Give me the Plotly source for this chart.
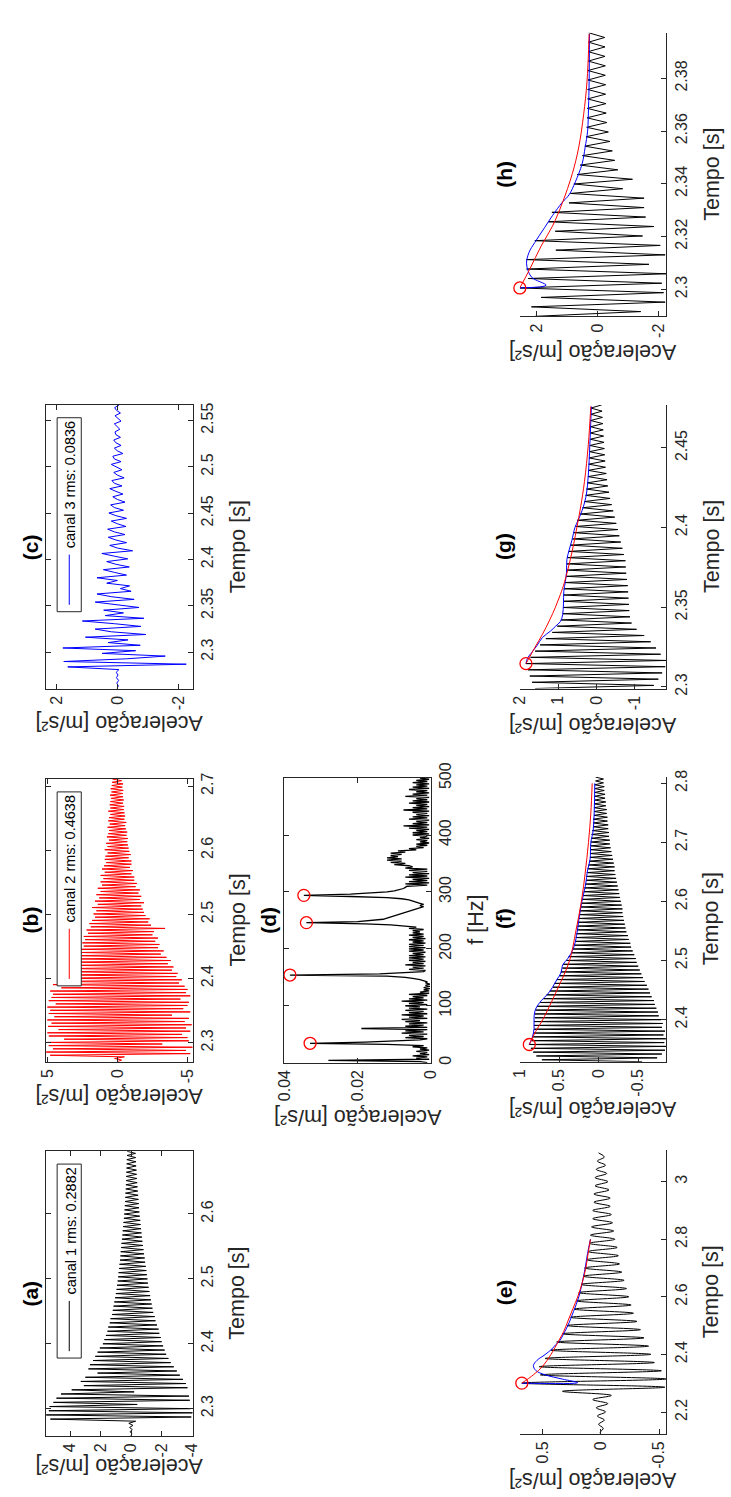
import numpy as np
import plotly.graph_objects as go

W, H = 731, 1497
FONT = "Liberation Sans, Arial, Helvetica, sans-serif"
AXC = "#262626"

# ---------------- data ----------------
# (a) canal 1: successive extrema of the measured acceleration [m/s^2]
acc_a = [0.02, -0.05, 0.06, -0.08, 0.10, -0.12, 0.15, -0.30,
         5.30, -3.95, 5.58, -4.04, 5.40, -3.90, 5.35, -0.40, 5.10, -3.85,
         4.90, -3.80, 4.60, -0.20, 3.90, -3.70, 3.10, -3.60, 3.30, -3.40,
         3.00, -3.20, 2.20, -3.00, 2.80, -2.80, 2.70, -2.60, 2.50, -2.45,
         2.35, -2.30, 2.20, -2.20, 2.05, -2.10, 1.85, -2.00, 1.75, -1.95,
         1.65, -1.85, 1.55, -1.80, 1.50, -1.70, 1.40, -1.60, 1.35, -1.55,
         1.25, -1.45, 1.20, -1.40, 1.15, -1.35, 1.10, -1.30, 1.05, -1.25,
         1.00, -1.20, 0.95, -1.15, 0.92, -1.10, 0.88, -1.07, 0.85, -1.03,
         0.82, -1.00, 0.79, -0.96, 0.76, -0.92, 0.73, -0.89, 0.70, -0.85,
         0.68, -0.81, 0.65, -0.77, 0.63, -0.74, 0.60, -0.71, 0.57, -0.68,
         0.55, -0.65, 0.52, -0.62, 0.50, -0.60, 0.47, -0.57, 0.45, -0.54,
         0.43, -0.52, 0.41, -0.50, 0.40, -0.48, 0.38, -0.46, 0.37, -0.44,
         0.35, -0.42, 0.34, -0.40, 0.33, -0.38, 0.32, -0.36, 0.31, -0.35,
         0.30, -0.33, 0.29, -0.32, 0.28, -0.30, 0.27, -0.29, 0.26]
t_a = np.linspace(2.258, 2.6965, len(acc_a))

# (b) canal 2
acc_b = [0.0, -0.3, 0.2, -0.5,
         4.8, -5.2, 5.09, -4.9, 4.6, -5.37, 4.9, -3.2, 5.0, -5.1,
         3.8, -5.0, 4.9, -4.6, 5.0, -5.2, 4.2, -4.9, 4.95, -5.3,
         4.7, -4.8, 5.0, -5.1, 4.5, -3.9, 4.9, -5.2, 4.8, -4.7,
         5.0, -5.0, 4.4, -5.1, 4.9, -4.5, 4.7, -5.2, 4.6, -4.9,
         4.8, -5.0, 4.0, -4.8, 4.6, -4.4, 4.2, -4.6, 4.1, -4.2,
         3.6, -4.3, 3.8, -3.9, 3.4, -4.0, 3.2, -3.6, 3.3, -3.8,
         2.8, -3.5, 3.0, -3.1, 2.6, -3.3, 2.7, -2.9, 2.4, -3.0,
         2.5, -2.7, 2.3, -2.9, 2.4, -2.5, 2.1, -2.6, 2.2, -3.4,
         1.9, -2.4, 2.0, -2.2, 1.8, -2.3, 1.6, -2.0, 1.7, -1.9,
         1.5, -1.8, 1.8, -1.7, 1.4, -1.9, 1.6, -1.6, 1.3, -1.7,
         1.5, -1.5, 1.2, -1.6, 1.4, -1.3, 1.1, -1.4, 1.2, -1.2,
         1.0, -1.2, 1.2, -1.0, 0.9, -1.1, 1.1, -0.9, 0.95, -1.0,
         0.8, -1.0, 0.9, -0.8, 0.85, -0.95, 0.7, -0.85, 0.9, -0.8,
         0.7, -0.75, 0.8, -0.7, 0.6, -0.75, 0.75, -0.65, 0.65, -0.7,
         0.6, -0.6, 0.7, -0.55, 0.55, -0.63, 0.65, -0.5, 0.6, -0.55,
         0.5, -0.5, 0.65, -0.45, 0.5, -0.48, 0.55, -0.4, 0.5, -0.45,
         0.45, -0.4, 0.53, -0.38, 0.42, -0.42, 0.48, -0.35, 0.4, -0.4,
         0.38, -0.3, 0.35]
t_b = np.linspace(2.2705, 2.711, len(acc_b))

# (c) canal 3
acc_c = [0.01, -0.03, 0.02, -0.04, 0.03, -0.02, 0.04, -0.05,
         1.63, -2.26, 1.76, -0.30, -1.57, 0.50, -0.60, 1.79, -0.75, 0.30,
         -0.35, 1.05, -0.93, 0.20, 0.73, -0.77, 0.10, 1.15, -0.87, 0.40,
         -0.20, 0.45, -0.71, 0.10, 0.73, -0.55, 0.20, 0.67, -0.45, -0.10,
         -0.40, 0.35, 0.00, 0.67, -0.30, 0.10, 0.46, -0.39, 0.05, 0.35,
         -0.34, 0.10, 0.51, -0.50, 0.00, 0.25, -0.30, 0.05, 0.30, -0.25,
         0.10, 0.32, -0.28, 0.00, 0.20, -0.30, 0.05, 0.28, -0.20, 0.10,
         0.22, -0.25, 0.00, 0.15, -0.18, 0.05, 0.25, -0.15, 0.10, 0.18,
         -0.22, 0.00, 0.12, -0.15, 0.05, 0.20, -0.12, 0.10, 0.15, -0.18,
         0.00, 0.10, -0.12, 0.05, 0.12, -0.10, 0.05, 0.08, -0.08, 0.02,
         0.10, -0.12, 0.00, 0.08, -0.10, 0.03, 0.09, -0.06]
t_c = np.linspace(2.2606, 2.567, len(acc_c))

# (d) amplitude spectrum, 2 Hz bins, values in 1e-3 m/s^2
amp_d_milli = [
    1, 3, 28, 0.5, 4, 1, 5, 0.5, 3, 1, 4, 0.5, 3, 1, 5, 2,
    12, 33, 18, 8, 3,
    1, 7, 2, 6, 1, 8, 2, 7, 1, 19,
    1, 7, 2, 6, 1, 7, 3, 8, 1, 6, 2, 8, 1, 6, 2, 7, 1, 6, 3, 7,
    1, 6, 2, 8, 1, 6, 2, 5, 1, 6,
    0.5, 3, 0.5, 2, 0.3, 2, 0.3, 1.5, 0.3, 1.5, 1, 2, 3, 5, 7,
    12, 38.5, 14, 6, 2,
    1.5, 6, 2, 5, 1.5, 7, 2, 5, 1.5, 6, 2, 6, 1.5, 6, 2, 5, 1.5, 6, 2, 6,
    1.5, 6, 2, 6, 1.5, 5, 2, 6, 1.5, 5, 2, 6, 2, 5, 3,
    5, 2, 6, 4, 7, 11, 18, 34, 20, 15, 13, 12, 11, 10.5, 9,
    8, 7, 6, 5, 4, 3, 2, 3, 2, 3, 4, 5, 6, 8, 12, 22,
    34.7, 22, 15, 12, 10, 8.5, 7.5, 7, 6.5,
    1, 7, 0.5, 6, 1, 5, 0.5, 7, 1, 6, 0.5, 5, 1, 6, 1, 7, 5,
    6, 10, 7, 11, 8, 12, 8, 12, 9, 11, 8, 11, 7, 9, 4, 6, 2, 4,
    1, 4, 0.5, 3, 1, 4, 0.5, 3, 1, 5,
    0.5, 5, 1, 4, 0.5, 6, 1, 7.5, 0.5, 5, 1, 4, 0.5, 6, 1, 5, 0.5, 4, 1, 5,
    0.5, 7.5, 1, 5, 0.5, 4, 1, 6, 0.5, 5, 1, 4, 0.5, 7, 1, 5, 0.5, 4, 1, 6,
    0.5, 5, 1, 4, 0.5, 5, 1, 4, 0.5, 3]
freq_d = np.linspace(0, 500, len(amp_d_milli))
amp_d = np.array(amp_d_milli) * 1e-3
peak_freqs_d = [34, 154, 246, 294]

# (e) component near 35 Hz
acc_e = [0.01, -0.02, 0.02, -0.03, 0.03, -0.04, 0.04, -0.06, 0.07, -0.09,
         0.33, -0.55, 0.68, -0.56, 0.52, -0.52, 0.53, -0.46, 0.48, -0.43,
         0.43, -0.41, 0.38, -0.37, 0.33, -0.34, 0.29, -0.31, 0.26, -0.28,
         0.23, -0.26, 0.21, -0.24, 0.19, -0.22, 0.17, -0.20, 0.15, -0.18,
         0.14, -0.16, 0.12, -0.15, 0.11, -0.14, 0.10, -0.12, 0.09, -0.11,
         0.08, -0.10, 0.07, -0.09, 0.07, -0.08, 0.06, -0.08, 0.06, -0.07,
         0.05, -0.06, 0.05, -0.05, 0.04, -0.04, 0.03, -0.03, 0.02]
t_e = np.linspace(2.13, 3.1, len(acc_e))
env_e_t = [2.3012, 2.3025, 2.315, 2.33, 2.345, 2.362, 2.38, 2.40, 2.42, 2.434,
           2.45, 2.473, 2.50, 2.55, 2.60, 2.65, 2.70, 2.75, 2.80]
env_e_v = [0.68, 0.20, 0.33, 0.48, 0.56, 0.58, 0.55, 0.48, 0.42, 0.39,
           0.35, 0.32, 0.285, 0.235, 0.19, 0.16, 0.135, 0.115, 0.09]
fit_e_t = [2.3012, 2.33, 2.36, 2.40, 2.45, 2.48, 2.52, 2.56, 2.60, 2.65, 2.70, 2.75, 2.80]
fit_e_v = [0.68, 0.58, 0.50, 0.43, 0.36, 0.32, 0.28, 0.24, 0.20, 0.16, 0.13, 0.11, 0.09]

# (f) component near 155 Hz
acc_f = [-0.55, 0.72, -0.74, 0.79, -0.80, 0.83, -0.84, 0.86, -0.85, 0.88,
         -0.83, 0.85, -0.85, 0.84, -0.82, 0.83, -0.84, 0.82, -0.80, 0.82,
         -0.81, 0.82, -0.79, 0.81, -0.76, 0.81, -0.75, 0.80, -0.73, 0.78,
         -0.71, 0.74, -0.70, 0.70, -0.67, 0.66, -0.65, 0.62, -0.63, 0.58,
         -0.61, 0.56, -0.58, 0.53, -0.56, 0.50, -0.54, 0.48, -0.52, 0.46,
         -0.50, 0.45, -0.48, 0.41, -0.47, 0.38, -0.45, 0.35, -0.43, 0.33,
         -0.41, 0.31, -0.40, 0.30, -0.38, 0.29, -0.37, 0.28, -0.35, 0.27,
         -0.34, 0.27, -0.33, 0.26, -0.32, 0.25, -0.31, 0.24, -0.30, 0.24,
         -0.30, 0.23, -0.29, 0.22, -0.28, 0.21, -0.27, 0.20, -0.26, 0.19,
         -0.25, 0.18, -0.24, 0.17, -0.23, 0.16, -0.22, 0.16, -0.21, 0.15,
         -0.20, 0.14, -0.20, 0.13, -0.19, 0.12, -0.18, 0.11, -0.17, 0.11,
         -0.16, 0.10, -0.15, 0.10, -0.14, 0.10, -0.14, 0.09, -0.13, 0.09,
         -0.13, 0.08, -0.12, 0.07, -0.12, 0.07, -0.11, 0.07, -0.11, 0.06,
         -0.10, 0.06, -0.10, 0.06, -0.09, 0.06, -0.09, 0.05, -0.08, 0.05,
         -0.08, 0.05, -0.07, 0.05, -0.07, 0.05, -0.06, 0.04, -0.06, 0.04]
t_f = np.linspace(2.329, 2.8105, len(acc_f))
env_f_t = [2.3581, 2.371, 2.385, 2.404, 2.418, 2.432, 2.443, 2.454, 2.468, 2.479,
           2.493, 2.504, 2.521, 2.543, 2.571, 2.599, 2.626, 2.654, 2.671, 2.70, 2.721, 2.80]
env_f_v = [0.88, 0.84, 0.82, 0.82, 0.80, 0.73, 0.65, 0.59, 0.53, 0.48,
           0.455, 0.39, 0.32, 0.28, 0.25, 0.215, 0.17, 0.14, 0.11, 0.10, 0.07, 0.05]
fit_f_t = [2.3581, 2.38, 2.40, 2.45, 2.50, 2.55, 2.60, 2.65, 2.70, 2.75, 2.80]
fit_f_v = [0.88, 0.80, 0.71, 0.53, 0.37, 0.29, 0.22, 0.17, 0.13, 0.10, 0.083]

# (g) component near 250 Hz
acc_g = [1.60, -1.50, 1.68, -1.62, 1.74, -1.72, 1.79, -1.80, 1.84, -1.83,
         1.72, -1.68, 1.60, -1.56, 1.47, -1.42, 1.32, -1.25, 1.15, -1.05,
         1.02, -0.92, 0.92, -0.88, 0.88, -0.86, 0.87, -0.85, 0.87, -0.84,
         0.86, -0.83, 0.85, -0.82, 0.82, -0.80, 0.79, -0.78, 0.78, -0.77,
         0.77, -0.76, 0.76, -0.72, 0.72, -0.68, 0.68, -0.64, 0.63, -0.60,
         0.59, -0.56, 0.55, -0.52, 0.50, -0.48, 0.42, -0.44, 0.36, -0.40,
         0.31, -0.36, 0.28, -0.33, 0.26, -0.30, 0.24, -0.28, 0.22, -0.26,
         0.21, -0.24, 0.20, -0.23, 0.19, -0.22, 0.18, -0.21, 0.17, -0.20,
         0.16, -0.19, 0.16, -0.18, 0.15, -0.17, 0.15, -0.16, 0.14, -0.15,
         0.14, -0.14]
t_g = np.linspace(2.299, 2.477, len(acc_g))
env_g_t = [2.3146, 2.318, 2.321, 2.326, 2.331, 2.335, 2.338, 2.341, 2.3455, 2.352,
           2.36, 2.366, 2.372, 2.38, 2.386, 2.392, 2.40, 2.405, 2.409, 2.413,
           2.421, 2.433, 2.452, 2.476]
env_g_v = [1.84, 1.80, 1.71, 1.55, 1.41, 1.20, 1.07, 0.94, 0.88, 0.86,
           0.85, 0.81, 0.78, 0.77, 0.71, 0.64, 0.56, 0.47, 0.40, 0.34,
           0.26, 0.21, 0.17, 0.13]
fit_g_t = [2.3146, 2.325, 2.333, 2.342, 2.35, 2.358, 2.366, 2.38, 2.39, 2.40,
           2.413, 2.429, 2.452, 2.476]
fit_g_v = [1.84, 1.60, 1.41, 1.22, 1.07, 0.94, 0.83, 0.68, 0.59, 0.51,
           0.41, 0.31, 0.21, 0.145]

# (h) component near 290 Hz
acc_h = [2.05, -1.41, 2.17, -2.21, 1.85, -2.16, 2.55, -2.10, 2.28, -2.27,
         2.33, -1.68, 2.33, -2.21, 1.37, -2.05, 2.06, -1.47, 1.39, -1.84,
         1.62, -1.57, 1.50, -1.52, 0.94, -1.52, 0.89, -0.82, 0.78, -1.14,
         0.67, -0.66, 0.57, -0.56, 0.50, -0.48, 0.42, -0.40, 0.38, -0.35,
         0.36, -0.30, 0.35, -0.28, 0.34, -0.27, 0.33, -0.26, 0.33, -0.26,
         0.32, -0.25, 0.32, -0.25, 0.31, -0.24, 0.31, -0.24, 0.30, -0.23,
         0.30]
t_h = np.linspace(2.2898, 2.3973, len(acc_h))
env_h_t = [2.3006, 2.3016, 2.3047, 2.3097, 2.314, 2.3178, 2.3234, 2.328, 2.333, 2.3358,
           2.3408, 2.3476, 2.3539, 2.36, 2.3688, 2.3787, 2.3968]
env_h_v = [2.55, 1.69, 2.17, 2.33, 2.25, 2.06, 1.74, 1.48, 1.16, 0.94,
           0.73, 0.51, 0.41, 0.33, 0.30, 0.28, 0.27]
fit_h_t = [2.3006, 2.3078, 2.3165, 2.324, 2.3327, 2.3439, 2.3539, 2.3663, 2.3787, 2.3968]
fit_h_v = [2.55, 2.22, 1.85, 1.48, 1.16, 0.83, 0.62, 0.46, 0.35, 0.28]

# tick values
ticks_acc = {
    'a': [4, 2, 0, -2, -4], 'b': [5, 0, -5], 'c': [2, 0, -2], 'd': [0.04, 0.02, 0],
    'e': [0.5, 0, -0.5], 'f': [1, 0.5, 0, -0.5], 'g': [2, 1, 0, -1], 'h': [2, 0, -2],
}
ticks_t = {
    'a': [2.3, 2.4, 2.5, 2.6], 'b': [2.3, 2.4, 2.5, 2.6, 2.7],
    'c': [2.3, 2.35, 2.4, 2.45, 2.5, 2.55], 'd': [0, 100, 200, 300, 400, 500],
    'e': [2.2, 2.4, 2.6, 2.8, 3], 'f': [2.4, 2.5, 2.6, 2.7, 2.8],
    'g': [2.3, 2.35, 2.4, 2.45], 'h': [2.3, 2.32, 2.34, 2.36, 2.38],
}
legend_text = {'a': "canal 1 rms: 0.2882", 'b': "canal 2 rms: 0.4638", 'c': "canal 3 rms: 0.0836"}

# ---------------- layout (pixel boxes, rotated page) ----------------
panels = {
    'a': dict(n=1, box=(38, 1153, 188, 1442), xr=[5.58, -4.04], yr=[2.258, 2.6965], boxed=True),
    'b': dict(n=2, box=(38, 775, 188, 1062), xr=[5.09, -5.37], yr=[2.2705, 2.711], boxed=True),
    'c': dict(n=3, box=(38, 395, 188, 683), xr=[2.34, -2.47], yr=[2.2606, 2.567], boxed=True),
    'd': dict(n=4, box=(282, 774, 432, 1063), xr=[0.04, 0.0], yr=[0, 500], boxed=True),
    'e': dict(n=5, box=(523, 1152, 673, 1440), xr=[0.697, -0.563], yr=[2.125, 3.109], boxed=False),
    'f': dict(n=6, box=(523, 773, 673, 1062), xr=[1.0, -0.857], yr=[2.329, 2.8105], boxed=False),
    'g': dict(n=7, box=(523, 395, 673, 683), xr=[2.0, -1.83], yr=[2.299, 2.477], boxed=False),
    'h': dict(n=8, box=(523, 17, 673, 305), xr=[2.55, -2.25], yr=[2.2898, 2.3973], boxed=False),
}


def px(x):
    return x / W


def py(y):
    return 1 - y / H


def xid(n):
    return 'x' if n == 1 else f'x{n}'


def yid(n):
    return 'y' if n == 1 else f'y{n}'


fig = go.Figure()


def add_line(key, x, y, color, width=1.0, shape='linear'):
    n = panels[key]['n']
    fig.add_trace(go.Scatter(x=x, y=y, mode='lines', xaxis=xid(n), yaxis=yid(n),
                             line=dict(color=color, width=width, shape=shape),
                             hoverinfo='skip', showlegend=False))


def add_circles(key, x, y):
    n = panels[key]['n']
    fig.add_trace(go.Scatter(x=x, y=y, mode='markers', xaxis=xid(n), yaxis=yid(n),
                             marker=dict(symbol='circle-open', size=12, color='#ff0000',
                                         line=dict(width=1.3, color='#ff0000')),
                             cliponaxis=False, hoverinfo='skip', showlegend=False))


# raw channels
add_line('a', acc_a, t_a, '#000000')
add_line('b', acc_b, t_b, '#ff0000')
add_line('c', acc_c, t_c, '#0000ff')

# spectrum and its peaks
add_line('d', amp_d, freq_d, '#000000', 1.3)
pk_idx = [int(np.argmin(np.abs(freq_d - f))) for f in peak_freqs_d]
add_circles('d', amp_d[pk_idx], freq_d[pk_idx])

# filtered components, envelope (blue) and exponential fit (red)
for key, acc, t, et, ev, ft, fv, shape in [
        ('e', acc_e, t_e, env_e_t, env_e_v, fit_e_t, fit_e_v, 'spline'),
        ('f', acc_f, t_f, env_f_t, env_f_v, fit_f_t, fit_f_v, 'linear'),
        ('g', acc_g, t_g, env_g_t, env_g_v, fit_g_t, fit_g_v, 'linear'),
        ('h', acc_h, t_h, env_h_t, env_h_v, fit_h_t, fit_h_v, 'linear')]:
    add_line(key, acc, t, '#000000', 1.0, shape)
    add_line(key, ev, et, '#0000ff', 1.0, 'spline')
    add_line(key, fv, ft, '#ff0000', 1.0, 'spline')
    i = int(np.argmax(acc))
    add_circles(key, [acc[i]], [t[i]])

layout = dict(width=W, height=H, margin=dict(l=0, r=0, t=0, b=0),
              paper_bgcolor='white', plot_bgcolor='white', showlegend=False,
              font=dict(family=FONT, size=16, color=AXC))

for key, p in panels.items():
    n = p['n']
    x0, y0, x1, y1 = p['box']
    mirror = 'ticks' if p['boxed'] else False
    xa = 'xaxis' if n == 1 else f'xaxis{n}'
    ya = 'yaxis' if n == 1 else f'yaxis{n}'
    layout[xa] = dict(domain=[px(x0), px(x1)], range=p['xr'], anchor=yid(n), side='bottom',
                      tickvals=ticks_acc[key], ticktext=[f"{v:g}" for v in ticks_acc[key]],
                      tickangle=-90, ticks='inside', ticklen=5, tickwidth=1, tickcolor=AXC,
                      showline=True, linecolor=AXC, linewidth=1, mirror=mirror,
                      showgrid=False, zeroline=False, tickfont=dict(size=16, color=AXC))
    layout[ya] = dict(domain=[py(y1), py(y0)], range=p['yr'], anchor=xid(n), side='right',
                      tickvals=ticks_t[key], ticktext=[f"{v:g}" for v in ticks_t[key]],
                      tickangle=-90, ticks='inside', ticklen=5, tickwidth=1, tickcolor=AXC,
                      showline=True, linecolor=AXC, linewidth=1, mirror=mirror,
                      showgrid=False, zeroline=False, tickfont=dict(size=16, color=AXC))

annotations = []


def text(x, y, s, angle, size, color=AXC):
    annotations.append(dict(x=px(x), y=py(y), xref='paper', yref='paper', text=s,
                            textangle=angle, showarrow=False, xanchor='center',
                            yanchor='middle', font=dict(family=FONT, size=size, color=color)))


titles = {'a': (22, 1297), 'b': (22, 918), 'c': (22, 539), 'd': (266, 918),
          'e': (507, 1296), 'f': (507, 917), 'g': (507, 539), 'h': (507, 161)}
for key, (x, y) in titles.items():
    text(x, y, f"<b>({key})</b>", -90, 21, '#000000')

acc_label_pos = {'a': (113, 1472), 'b': (113, 1097), 'c': (113, 718), 'd': (357, 1118),
                 'e': (598, 1487), 'f': (598, 1110), 'g': (598, 720), 'h': (598, 341)}
for key, (x, y) in acc_label_pos.items():
    text(x, y, "Aceleração [m/s²]", 180, 21.5)

time_label_pos = {'a': (234, 1297), 'b': (234, 918), 'c': (234, 539), 'e': (719, 1296),
                  'f': (719, 917), 'g': (719, 539), 'h': (719, 161)}
for key, (x, y) in time_label_pos.items():
    text(x, y, "Tempo [s]", -90, 21.5)
text(478, 918, "f [Hz]", -90, 21.5)

# legends of the raw channels
shapes = []
legend_colors = {'a': '#000000', 'b': '#ff0000', 'c': '#0000ff'}
for key in ['a', 'b', 'c']:
    top = panels[key]['box'][1] + 13
    shapes.append(dict(type='rect', xref='paper', yref='paper', x0=px(49.3), x1=px(74),
                       y0=py(top + 197), y1=py(top), line=dict(color=AXC, width=1),
                       fillcolor='white', layer='above'))
    shapes.append(dict(type='line', xref='paper', yref='paper', x0=px(61.7), x1=px(61.7),
                       y0=py(top + 190), y1=py(top + 139),
                       line=dict(color=legend_colors[key], width=1), layer='above'))
    text(62.5, top + 68.5, legend_text[key], -90, 14.5, '#000000')

layout['annotations'] = annotations
layout['shapes'] = shapes
fig.update_layout(**layout)
fig.write_html("out.html")
